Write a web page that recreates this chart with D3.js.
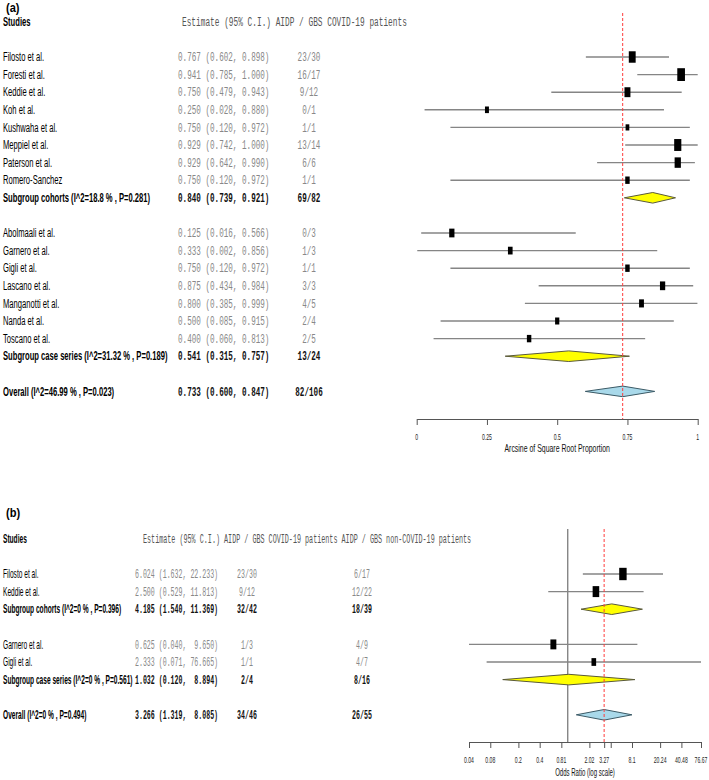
<!DOCTYPE html>
<html>
<head>
<meta charset="utf-8">
<script src="https://cdn.jsdelivr.net/npm/d3@7"></script>
<style>
body { margin: 0; background: #fff; }
text { white-space: pre; }
</style>
</head>
<body>
<div id="chart"></div>
<script>
//////////////////////////////////////
// Data, panel (a): proportion of AIDP
//////////////////////////////////////
const cohortNamesA = ["Filosto et al.", "Foresti et al.", "Keddie et al.", "Koh et al.",
  "Kushwaha et al.", "Meppiel et al.", "Paterson et al.", "Romero-Sanchez"];
const cohortEstA = [0.767, 0.941, 0.750, 0.250, 0.750, 0.929, 0.929, 0.750];
const cohortLoA = [0.602, 0.785, 0.479, 0.028, 0.120, 0.742, 0.642, 0.120];
const cohortHiA = [0.898, 1.000, 0.943, 0.880, 0.972, 1.000, 0.990, 0.972];
const cohortCountA = ["23/30", "16/17", "9/12", "0/1", "1/1", "13/14", "6/6", "1/1"];
const cohortWeightA = [12, 15, 9, 4, 3.5, 13, 10, 5];

const caseNamesA = ["Abolmaali et al.", "Garnero et al.", "Gigli et al.", "Lascano et al.",
  "Manganotti et al.", "Nanda et al.", "Toscano et al."];
const caseEstA = [0.125, 0.333, 0.750, 0.875, 0.800, 0.500, 0.400];
const caseLoA = [0.016, 0.002, 0.120, 0.434, 0.385, 0.085, 0.060];
const caseHiA = [0.566, 0.856, 0.972, 0.984, 0.999, 0.915, 0.813];
const caseCountA = ["0/3", "1/3", "1/1", "3/3", "4/5", "2/4", "2/5"];
const caseWeightA = [7, 5.5, 5, 7, 6, 4.5, 5];

const summaryLabelsA = ["Subgroup cohorts (I^2=18.8 % , P=0.281)",
  "Subgroup case series (I^2=31.32 % , P=0.189)", "Overall (I^2=46.99 % , P=0.023)"];
const summaryEstA = [0.840, 0.541, 0.733];
const summaryLoA = [0.739, 0.315, 0.600];
const summaryHiA = [0.921, 0.757, 0.847];
const summaryCountA = ["69/82", "13/24", "82/106"];

const ticksA = [0, 0.25, 0.5, 0.75, 1];
const tickLabelsA = ["0", "0.25", "0.5", "0.75", "1"];

//////////////////////////////////////
// Data, panel (b): odds ratio
//////////////////////////////////////
const cohortNamesB = ["Filosto et al.", "Keddie et al."];
const cohortEstB = [6.024, 2.500];
const cohortLoB = [1.632, 0.529];
const cohortHiB = [22.233, 11.813];
const cohortCovidB = ["23/30", "9/12"];
const cohortNonCovidB = ["6/17", "12/22"];
const cohortWeightB = [14, 11];

const caseNamesB = ["Garnero et al.", "Gigli et al."];
const caseEstB = [0.625, 2.333];
const caseLoB = [0.040, 0.071];
const caseHiB = [9.650, 76.665];
const caseCovidB = ["1/3", "1/1"];
const caseNonCovidB = ["4/9", "4/7"];
const caseWeightB = [9, 5.5];

const summaryLabelsB = ["Subgroup cohorts (I^2=0 % , P=0.396)",
  "Subgroup case series (I^2=0 % , P=0.561)", "Overall (I^2=0 % , P=0.494)"];
const summaryEstB = [4.185, 1.032, 3.266];
const summaryLoB = [1.540, 0.120, 1.319];
const summaryHiB = [11.369, 8.894, 8.085];
const summaryCovidB = ["32/42", "2/4", "34/46"];
const summaryNonCovidB = ["18/39", "8/16", "26/55"];

const ticksB = [0.04, 0.08, 0.2, 0.4, 0.81, 2.02, 3.27, 4.05, 8.1, 20.24, 40.48, 76.67];
const tickLabelsB = ["0.04", "0.08", "0.2", "0.4", "0.81", "2.02", "3.27", "", "8.1", "20.24", "40.48", "76.67"];

//////////////////////////////////////
// Drawing helpers
//////////////////////////////////////
const W = 709, H = 780;
const SANS = "'Liberation Sans', Arial, sans-serif";
const MONO = "'Liberation Mono', 'Courier New', monospace";

const svg = d3.select("#chart").append("svg")
  .attr("width", W).attr("height", H)
  .style("background", "#fff");

function label (g, x, y, s, o) {
  return g.append("text")
    .attr("transform", "translate(" + x + "," + y + ") scale(" + o.sx + ",1)")
    .attr("dy", "0.35em")
    .attr("text-anchor", o.anchor || "start")
    .style("font-family", o.family || SANS)
    .style("font-size", (o.size || 12) + "px")
    .style("font-weight", o.weight || "normal")
    .style("fill", o.fill || "#000")
    .text(s);
}

const f3 = d3.format(".3f");
function ci (est, lo, hi, hw) {
  return f3(est) + " (" + f3(lo) + ", " + f3(hi).padStart(hw) + ")";
}

function build_rows (groups, summary) {
  let rows = [];
  let r = 0;
  groups.forEach((g, gi) => {
    g.names.forEach((n, i) => {
      rows.push({ row: r++, kind: "study", name: n, est: g.est[i], lo: g.lo[i], hi: g.hi[i],
        cols: g.cols.map(c => c[i]), w: g.w[i] });
    });
    rows.push({ row: r++, kind: "summary", name: summary.labels[gi], est: summary.est[gi],
      lo: summary.lo[gi], hi: summary.hi[gi], cols: summary.cols.map(c => c[gi]) });
    r++;
  });
  let k = groups.length;
  rows.push({ row: r, kind: "overall", name: summary.labels[k], est: summary.est[k],
    lo: summary.lo[k], hi: summary.hi[k], cols: summary.cols.map(c => c[k]) });
  return rows;
}

function draw_panel (p, rows) {
  const g = svg.append("g");
  const y = d => p.top + d * p.step;
  const box = d3.scaleSqrt().domain([0, 15]).range([0, 12.8]);

  label(g, 6, p.tagY, p.tag, { sx: 0.85, size: 13, weight: "bold" });
  label(g, 3, y(-2), "Studies", { sx: p.sx, weight: "bold" });
  label(g, p.headX, y(-2), p.header, { sx: p.sx, family: MONO, size: 12.3, fill: "#555" });

  // text columns
  rows.forEach(d => {
    let bold = d.kind != "study";
    let o = { sx: p.sx, family: MONO, weight: bold ? "bold" : "normal", fill: bold ? "#111" : "#888" };
    label(g, 3, y(d.row), d.name, { sx: p.sx, weight: bold ? "bold" : "normal" });
    label(g, p.estX, y(d.row), ci(d.est, d.lo, d.hi, p.hw), o);
    d.cols.forEach((c, i) => label(g, p.colX[i], y(d.row), c, Object.assign({ anchor: "middle" }, o)));
  });

  // reference lines
  if (p.nullLine != undefined) {
    g.append("line")
      .attr("x1", p.x(p.nullLine)).attr("x2", p.x(p.nullLine))
      .attr("y1", p.refTop).attr("y2", p.axisY)
      .attr("stroke", "#555").attr("stroke-width", 1);
  }

  // CI lines and boxes
  let studies = rows.filter(d => d.kind == "study");
  g.selectAll(".ci").data(studies).enter().append("line")
    .attr("x1", d => p.x(d.lo)).attr("x2", d => p.x(d.hi))
    .attr("y1", d => y(d.row)).attr("y2", d => y(d.row))
    .attr("stroke", "#858585").attr("stroke-width", 1.4);
  g.selectAll(".box").data(studies).enter().append("rect")
    .attr("width", d => box(d.w) * 0.6)
    .attr("height", d => box(d.w))
    .attr("x", d => p.x(d.est) - box(d.w) * 0.3)
    .attr("y", d => y(d.row) - box(d.w) / 2)
    .attr("fill", "#000");

  // diamonds
  let diamonds = rows.filter(d => d.kind != "study");
  g.selectAll(".dia").data(diamonds).enter().append("path")
    .attr("d", d => {
      let cy = y(d.row), h = 5.3;
      return d3.line()([[p.x(d.lo), cy], [p.x(d.est), cy - h], [p.x(d.hi), cy], [p.x(d.est), cy + h]]) + "Z";
    })
    .attr("fill", d => d.kind == "overall" ? "#a9d9ea" : "#ffff00")
    .attr("stroke", d => d.kind == "overall" ? "#3b5a66" : "#5a5a3a")
    .attr("stroke-width", 1);

  // summary estimate line
  let overall = rows.find(d => d.kind == "overall");
  g.append("line")
    .attr("x1", p.x(overall.est)).attr("x2", p.x(overall.est))
    .attr("y1", p.refTop).attr("y2", p.axisY)
    .attr("stroke", "#ff3b3b").attr("stroke-width", 1)
    .attr("stroke-dasharray", "3,2");

  // axis
  const ax = g.append("g")
    .attr("transform", "translate(0," + p.axisY + ")")
    .call(d3.axisBottom(p.x).tickValues(p.ticks).tickSize(6).tickSizeOuter(0)
      .tickFormat((d, i) => p.tickLabels[i]));
  ax.selectAll("path, line").attr("stroke", "#555");
  ax.selectAll("text").remove();
  p.ticks.forEach((t, i) => {
    label(g, p.x(t), p.axisY + 18, p.tickLabels[i], { sx: 0.6, size: 8.5, anchor: "middle", fill: "#222" });
  });
  let xr = p.x.range();
  label(g, (xr[0] + xr[1]) / 2, p.titleY, p.title, { sx: p.titleSx, size: 11, anchor: "middle", fill: "#111" });
}

//////////////////////////////////////
// Panels
//////////////////////////////////////
const rowsA = build_rows([
  { names: cohortNamesA, est: cohortEstA, lo: cohortLoA, hi: cohortHiA, cols: [cohortCountA], w: cohortWeightA },
  { names: caseNamesA, est: caseEstA, lo: caseLoA, hi: caseHiA, cols: [caseCountA], w: caseWeightA }
], { labels: summaryLabelsA, est: summaryEstA, lo: summaryLoA, hi: summaryHiA, cols: [summaryCountA] });

draw_panel({
  tag: "(a)", tagY: 7, top: 57, step: 17.6, sx: 0.635, hw: 5,
  header: "Estimate (95% C.I.) AIDP / GBS COVID-19 patients", headX: 182,
  estX: 178, colX: [309],
  x: d3.scaleLinear().domain([0, 1]).range([416.7, 697.7]),
  ticks: ticksA, tickLabels: tickLabelsA,
  refTop: 13, axisY: 419, titleY: 448, titleSx: 0.63,
  title: "Arcsine of Square Root Proportion"
}, rowsA);

const rowsB = build_rows([
  { names: cohortNamesB, est: cohortEstB, lo: cohortLoB, hi: cohortHiB, cols: [cohortCovidB, cohortNonCovidB], w: cohortWeightB },
  { names: caseNamesB, est: caseEstB, lo: caseLoB, hi: caseHiB, cols: [caseCovidB, caseNonCovidB], w: caseWeightB }
], { labels: summaryLabelsB, est: summaryEstB, lo: summaryLoB, hi: summaryHiB, cols: [summaryCovidB, summaryNonCovidB] });

draw_panel({
  tag: "(b)", tagY: 512, top: 574, step: 17.6, sx: 0.55, hw: 6,
  header: "Estimate (95% C.I.) AIDP / GBS COVID-19 patients AIDP / GBS non-COVID-19 patients", headX: 143,
  estX: 135, colX: [247, 362],
  x: d3.scaleLog().domain([0.04, 76.67]).range([469, 701]),
  ticks: ticksB, tickLabels: tickLabelsB, nullLine: 1,
  refTop: 529, axisY: 742, titleY: 772, titleSx: 0.55,
  title: "Odds Ratio (log scale)"
}, rowsB);
</script>
</body>
</html>
